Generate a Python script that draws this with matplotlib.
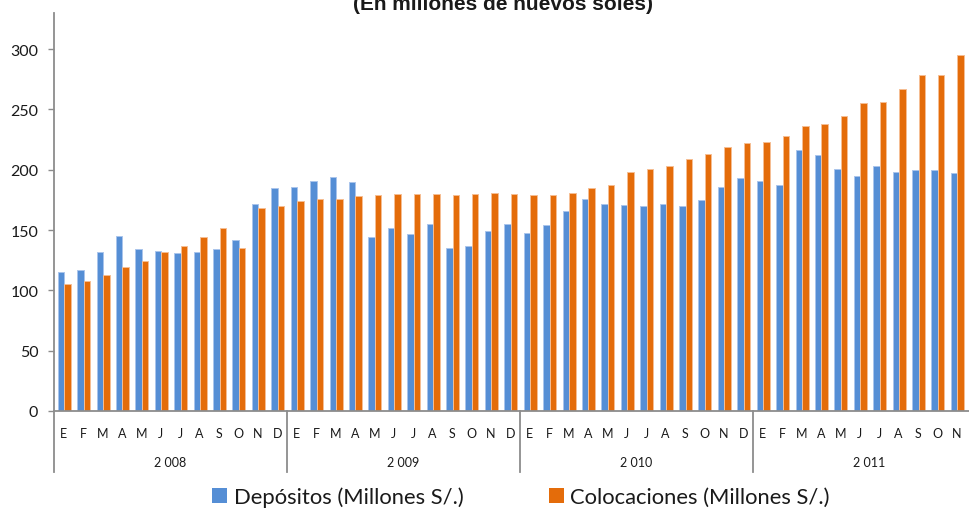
import numpy as np
import matplotlib
matplotlib.use("Agg")
import matplotlib.pyplot as plt
from matplotlib.patches import Patch

# Datos (millones de S/.), enero 2008 - diciembre 2011
meses = ["E", "F", "M", "A", "M", "J", "J", "A", "S", "O", "N", "D"]
anios = ["2 008", "2 009", "2 010", "2 011"]

depositos = [
    115, 117, 132, 145, 134, 133, 131, 132, 134, 142, 172, 185,
    186, 191, 194, 190, 144, 152, 147, 155, 135, 137, 149, 155,
    148, 154, 166, 176, 172, 171, 170, 172, 170, 175, 186, 193,
    191, 187, 216, 212, 201, 195, 203, 198, 200, 200, 197, 201,
]
colocaciones = [
    105, 108, 113, 119, 124, 132, 137, 144, 152, 135, 168, 170,
    174, 176, 176, 178, 179, 180, 180, 180, 179, 180, 181, 180,
    179, 179, 181, 185, 187, 198, 201, 203, 209, 213, 219, 222,
    223, 228, 236, 238, 245, 255, 256, 267, 279, 279, 295, np.nan,
]

AZUL, AZUL_BORDE = "#558ED5", "#A9C4EC"
NARANJA, NARANJA_BORDE = "#E46C0A", "#F6BE93"
GRIS = "#8C8C8C"
TEXTO = "#1A1A1A"

plt.rcParams["font.family"] = ["Lato", "DejaVu Sans"]

fig = plt.figure(figsize=(9.7, 5.1), dpi=100)
# el grafico original esta recortado a la derecha: el eje sale del lienzo
ax = fig.add_axes([54 / 970, 1 - 412 / 510, 932 / 970, 398 / 510])

x = np.arange(len(depositos))
ancho = 0.335
ax.bar(x - 0.1425, depositos, width=ancho, color=AZUL,
       edgecolor=AZUL_BORDE, linewidth=0.7)
ax.bar(x + 0.1925, colocaciones, width=ancho, color=NARANJA,
       edgecolor=NARANJA_BORDE, linewidth=0.7)

ax.set_xlim(-0.5, len(depositos) - 0.5)
ax.set_ylim(0, 330)
ax.set_yticks(np.arange(0, 301, 50))
ax.tick_params(axis="y", direction="out", length=4.3, width=1, color=GRIS,
               pad=7, labelsize=11.5, labelcolor=TEXTO)

# el ultimo mes (D 2011) queda fuera del recorte, sin etiqueta visible
etiquetas = meses * len(anios)
etiquetas[-1] = ""
ax.set_xticks(x)
ax.set_xticklabels(etiquetas)
ax.tick_params(axis="x", length=0, pad=11.5, labelsize=9, labelcolor=TEXTO)

for s in ["top", "right"]:
    ax.spines[s].set_visible(False)
for s in ["left", "bottom"]:
    ax.spines[s].set_color(GRIS)
    ax.spines[s].set_linewidth(1.3)

# eje de categorias de dos niveles: separadores y etiquetas de anio
trans = ax.get_xaxis_transform()
for k in range(len(anios) + 1):
    xs = k * 12 - 0.5
    ax.plot([xs, xs], [0, -0.153], transform=trans, color=GRIS, lw=1.3,
            clip_on=False)
for k, a in enumerate(anios):
    ax.text(k * 12 + 5.5, -0.128, a, transform=trans, ha="center",
            va="center", fontsize=9, color=TEXTO)

fig.text(503 / 970, 1 - 10.5 / 510, "(En millones de nuevos soles)",
         ha="center", va="baseline", fontsize=15, fontweight="bold",
         family=["Liberation Sans", "DejaVu Sans"], color=TEXTO)

handles = [Patch(facecolor=AZUL, edgecolor="none"),
           Patch(facecolor=NARANJA, edgecolor="none")]
fig.legend(handles, ["Depósitos (Millones S/.)", "Colocaciones (Millones S/.)"],
           loc="center", bbox_to_anchor=(521 / 970, 1 - 498 / 510), ncol=2,
           frameon=False, fontsize=15.8, handlelength=0.68, handleheight=0.68,
           handletextpad=0.3, columnspacing=3.9, borderpad=0,
           labelcolor=TEXTO)

fig.savefig("out.png", dpi=100)
